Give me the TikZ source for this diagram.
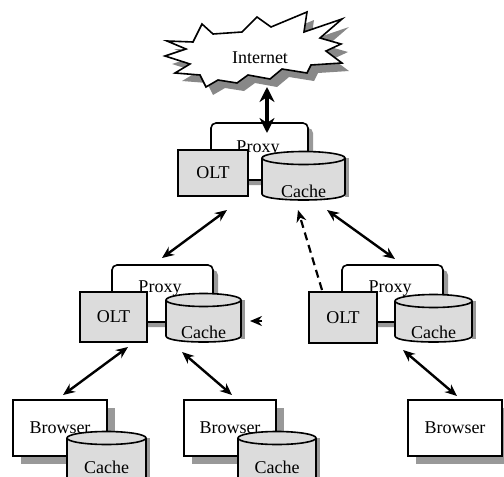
\documentclass[tikz,border=0pt]{standalone}
\usepackage{fontspec}
\setmainfont{Liberation Serif}
\usetikzlibrary{arrows.meta,shadows}
\definecolor{boxgray}{HTML}{DCDCDC}
\definecolor{shgray}{HTML}{999999}
\definecolor{burstsh}{HTML}{888888}
\newcommand\cylshape[6]{%
  \pgfmathsetmacro\cxm{(#2+#3)/2}%
  \pgfmathsetmacro\rxm{(#3-#2)/2}%
  \fill[shgray] (#3,#4) rectangle (#3+4,#5+3);
  \fill[boxgray] (#2,#4) -- (#2,#5) .. controls (#2,#5+8) and (#3,#5+8) .. (#3,#5) -- (#3,#4) -- cycle;
  \draw (#2,#4) -- (#2,#5) .. controls (#2,#5+8) and (#3,#5+8) .. (#3,#5) -- (#3,#4);
  \draw[fill=boxgray] (\cxm,#4) ellipse [x radius=\rxm, y radius=6.5];
  \node[lbl] (#1) at (\cxm,#6) {Cache};
}
\begin{document}
\begin{tikzpicture}[x=1pt,y=-1pt, line width=1.6pt,
  lbl/.style={font=\fontsize{18}{21}\selectfont, anchor=base, inner sep=0pt},
  oltbox/.style={draw, fill=boxgray, rectangle, inner sep=0pt, font=\fontsize{18}{21}\selectfont},
  proxybox/.style={draw, fill=white, rounded corners=5pt, rectangle, inner sep=0pt,
    general shadow={shadow xshift=5pt, shadow yshift=-5pt, fill=shgray}},
  browserbox/.style={draw, fill=white, rectangle, inner sep=0pt, font=\fontsize{18}{21}\selectfont,
    general shadow={shadow xshift=8pt, shadow yshift=-8pt, fill=shgray}},
  dbl/.style={line width=2.4pt, {Stealth[length=12pt,width=10pt]}-{Stealth[length=12pt,width=10pt]}},
  bigdbl/.style={line width=3.6pt, {Stealth[length=15pt,width=15pt]}-{Stealth[length=15pt,width=15pt]}},
  dasharrow/.style={line width=2.2pt, dash pattern=on 8pt off 5pt, -{Stealth[length=12pt,width=10pt]}},
]
\useasboundingbox (0,0) rectangle (504,477);

% Internet starburst
\def\burst{(167,41) -- (193,42) -- (202,24) -- (213,34) -- (242,32) -- (257,17) -- (271,27) -- (307,12) -- (304,32) -- (342,19) -- (320,38) -- (341,44) -- (326,51) -- (342,63) -- (311,65) -- (307,73) -- (282,69) -- (270,79) -- (248,75) -- (237,83) -- (218,80) -- (206,87) -- (200,75) -- (175,73) -- (190,64) -- (165,56) -- (186,49) -- cycle}
\fill[burstsh, shift={(7,8)}] \burst;
\draw[fill=white] \burst;
\node[lbl] (internet) at (260,63) {Internet};

% Top proxy group
\node[proxybox, minimum width=97, minimum height=57] (proxy1) at (259.5,151.5) {};
\node[lbl] (proxy1t) at (258,152) {Proxy};
\node[oltbox, minimum width=70, minimum height=46] (olt1) at (213,173) {OLT};
\cylshape{cache1}{262}{345}{158}{194}{197}

% Lower-left proxy group
\node[proxybox, minimum width=101, minimum height=57] (proxy2) at (162.5,293.5) {};
\node[lbl] (proxy2t) at (160,292) {Proxy};
\node[oltbox, minimum width=67, minimum height=50] (olt2) at (113.5,317) {OLT};
\cylshape{cache2}{166}{241}{300}{336}{338}

% Lower-right proxy group
\node[proxybox, minimum width=101, minimum height=57] (proxy3) at (392.5,293.5) {};
\node[lbl] (proxy3t) at (390,292) {Proxy};
\node[oltbox, minimum width=68, minimum height=51] (olt3) at (343,317.5) {OLT};
\cylshape{cache3}{395}{472}{301}{336}{338}

% Browsers
\node[browserbox, minimum width=94, minimum height=56] (b1) at (60,428) {Browser};
\cylshape{cache4}{67}{146}{438}{500}{473}
\node[browserbox, minimum width=92, minimum height=56] (b2) at (230,428) {Browser};
\cylshape{cache5}{238}{316}{438}{500}{473}
\node[browserbox, minimum width=94, minimum height=56] (b3) at (455,428) {Browser};

% Connector end points
\coordinate (a1s) at (267,87);  \coordinate (a1e) at (267,133);
\coordinate (a2s) at (227,210); \coordinate (a2e) at (162,258);
\coordinate (a3s) at (327,210); \coordinate (a3e) at (395,259);
\coordinate (a4s) at (128,347); \coordinate (a4e) at (63,395);
\coordinate (a5s) at (182,352); \coordinate (a5e) at (232,395);
\coordinate (a6s) at (403,350); \coordinate (a6e) at (457,396);
\coordinate (d1s) at (322,290); \coordinate (d1e) at (298,210);
\coordinate (t1s) at (262,321); \coordinate (t1e) at (250,321);

\draw[bigdbl] (a1s) -- (a1e);
\draw[dbl] (a2s) -- (a2e);
\draw[dbl] (a3s) -- (a3e);
\draw[dbl] (a4s) -- (a4e);
\draw[dbl] (a5s) -- (a5e);
\draw[dbl] (a6s) -- (a6e);
\draw[dasharrow] (d1s) -- (d1e);
\draw[line width=2pt, -{Stealth[length=12pt,width=10pt]}] (t1s) -- (t1e);
\end{tikzpicture}
\end{document}
